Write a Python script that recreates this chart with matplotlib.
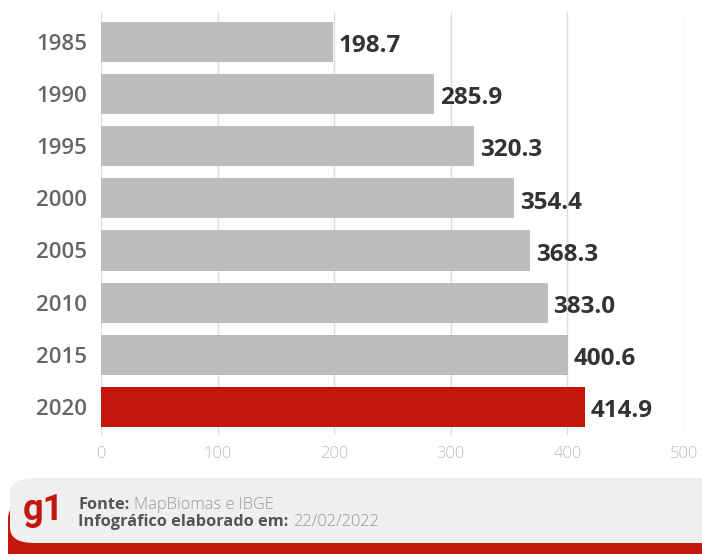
import matplotlib.pyplot as plt
from matplotlib.patches import FancyBboxPatch

years = ["1985", "1990", "1995", "2000", "2005", "2010", "2015", "2020"]
values = [198.7, 285.9, 320.3, 354.4, 368.3, 383.0, 400.6, 414.9]
ticks = [0, 100, 200, 300, 400, 500]

plt.rcParams['font.family'] = ['Open Sans', 'DejaVu Sans']

fig = plt.figure(figsize=(7.02, 5.54), dpi=100)
ax = fig.add_axes([101 / 702, 1 - 435 / 554, 583 / 702, 423 / 554])

colors = ['#bdbdbd'] * (len(years) - 1) + ['#c4170c']
pos = list(range(len(years)))
ax.barh(pos, values, height=0.77, color=colors, zorder=2)

for p, v in zip(pos, values):
    ax.text(v + 5, p + 0.08, f"{v:.1f}", va='center', ha='left',
            fontsize=17.5, fontweight='bold', color='#333333')

ax.set_xlim(0, 500)
ax.set_ylim(7.54, -0.575)
ax.set_yticks(pos)
ax.set_yticklabels(years, fontsize=16, fontweight='semibold', color='#666666')
ax.set_xticks(ticks)
ax.set_xticklabels([str(t) for t in ticks], fontsize=12, color='#bbbbbb',
                   fontweight='light')
ax.tick_params(length=0, pad=10)
ax.tick_params(axis='x', pad=8)
ax.grid(axis='x', color='#dddddd', linewidth=1, zorder=0)
for s in ax.spines.values():
    s.set_visible(False)

# footer band with red bottom edge
red = FancyBboxPatch((8 / 702, -0.05), 1.05, 55 / 554 + 0.05,
                     boxstyle="round,pad=0,rounding_size=0.045",
                     transform=fig.transFigure, facecolor='#c4170c',
                     edgecolor='none', mutation_aspect=554 / 702)
fig.patches.append(red)
gray = FancyBboxPatch((10 / 702, 11 / 554), 1.05, 65 / 554,
                      boxstyle="round,pad=0,rounding_size=0.035",
                      transform=fig.transFigure, facecolor='#efefef',
                      edgecolor='none', mutation_aspect=554 / 702)
fig.patches.append(gray)

# logo: single-storey g
fig.text(23 / 702, 1 - 510 / 554, "g1", fontsize=26, fontweight='bold',
         family=['Roboto', 'DejaVu Sans'], color='#c4170c', va='center',
         ha='left')

renderer = fig.canvas.get_renderer()


def source_line(y, label, rest):
    t = fig.text(78 / 702, 1 - y / 554, label, fontsize=11.8,
                 fontweight='bold', color='#555555', va='center', ha='left')
    bb = t.get_window_extent(renderer)
    fig.text((bb.x1 + 5) / 702, 1 - y / 554, rest, fontsize=11.8,
             fontweight='light', color='#999999', va='center', ha='left')


source_line(505, "Fonte:", "MapBiomas e IBGE")
source_line(522, "Infográfico elaborado em:", "22/02/2022")

fig.savefig("out.png", dpi=100)
